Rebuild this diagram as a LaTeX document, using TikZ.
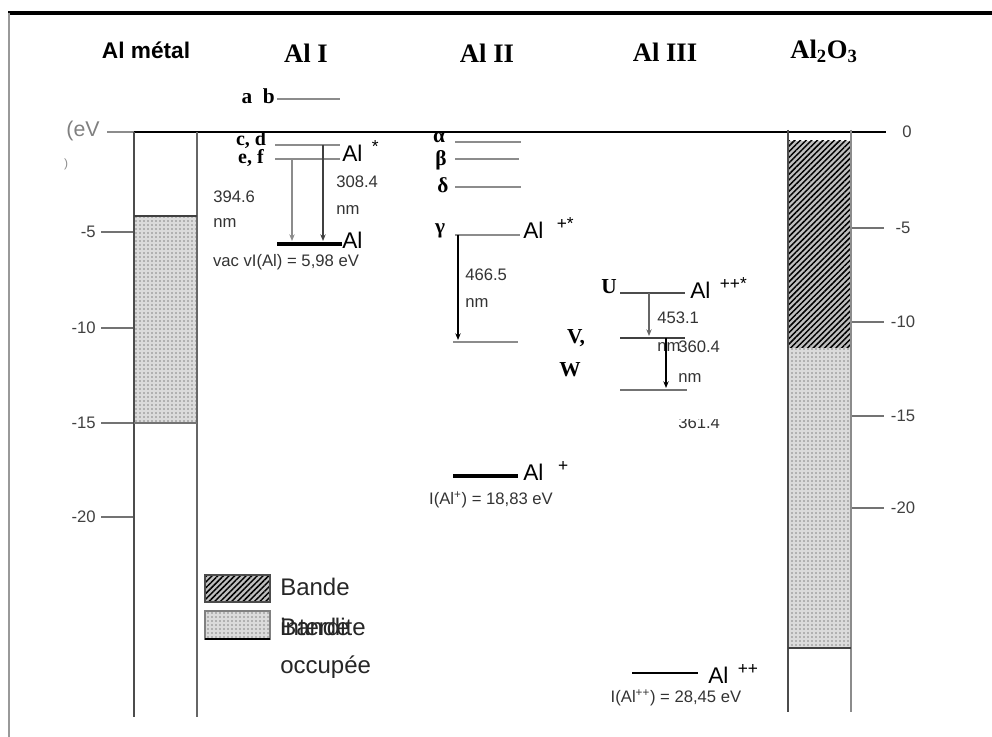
\documentclass[tikz,border=0pt]{standalone}
\usepackage{fontspec}
\setmainfont{Liberation Serif}
\setsansfont{Liberation Sans}
\usetikzlibrary{arrows.meta,patterns.meta}
\newcommand{\chg}[1]{\raisebox{7pt}{\fontsize{13}{13}\selectfont #1}}
\tikzset{level/.style = {draw=black!45, line width=1.6pt}}
\tikzset{ground/.style = {draw=black, line width=3.5pt}}
\tikzset{trans/.style = {-{Stealth[length=5pt,width=4pt]}, line width=0.9pt}}
\tikzset{title/.style = {font=\fontsize{20}{22}\selectfont\bfseries, inner sep=0pt}}
\tikzset{lbl/.style = {font=\fontsize{16}{18}\selectfont\bfseries, inner sep=0pt}}
\tikzset{ion/.style = {font=\sffamily\fontsize{17}{19}\selectfont, inner sep=0pt, anchor=west}}
\tikzset{small/.style = {font=\sffamily\fontsize{12.5}{14}\selectfont, inner sep=0pt, anchor=west, text=black!80}}
\tikzset{tick/.style = {draw=black!55, line width=1.6pt}}
\tikzset{ticklbl/.style = {font=\sffamily\fontsize{12.5}{14}\selectfont, inner sep=0pt, text=black!75}}
\tikzset{leg/.style = {font=\sffamily\fontsize{18}{20}\selectfont, inner sep=0pt, anchor=west, text=black!85}}
\tikzset{hatchfill/.style = {fill=black!25, postaction={pattern={Lines[angle=45,distance=3pt,line width=1.1pt]}, pattern color=black}}}
\tikzset{dotfill/.style = {fill=black!14, postaction={pattern={Dots[distance=3pt,radius=0.5pt]}, pattern color=black!85}}}

\begin{document}
\begin{tikzpicture}[x=0.75pt, y=-0.75pt]
	\useasboundingbox (0,0) rectangle (992,737);
	% frame
	\draw[line width=2.5pt] (8,13) -- (992,13);
	\draw[black!40, line width=1.5pt] (9,13) -- (9,737);

	% column titles
	\node[title, font=\sffamily\fontsize{17}{19}\selectfont\bfseries] (tmet) at (146,50) {Al métal};
	\node[title] (tAlI) at (306,53) {Al I};
	\node[title] (tAlII) at (487,53) {Al II};
	\node[title] (tAlIII) at (665,52) {Al III};
	\node[title] (tAlO) at (824,51) {Al\textsubscript{2}O\textsubscript{3}};

	% vacuum level
	\draw[black!45, line width=1.5pt] (107,132) -- (134,132);
	\draw[line width=2.2pt] (134,132) -- (886,132);
	\node[ticklbl, font=\sffamily\fontsize{16}{18}\selectfont, text=black!50] (ev) at (83,131) {(eV};
	\node[ticklbl, font=\sffamily\fontsize{9}{10}\selectfont, text=black!45] (evb) at (66,164) {)};
	\node[ticklbl] (r0) at (907,132) {0};

	% energy scales
	\foreach \y/\v [count=\i] in {232/-5,328/-10,423/-15,517/-20} {
		\draw[tick] (101,\y) -- (134,\y);
		\node[ticklbl, anchor=east] (lt\i) at (96,\y) {\v};
	}
	\foreach \y/\v [count=\i] in {228/-5,322/-10,416/-15,508/-20} {
		\draw[tick] (851,\y) -- (884,\y);
		\node[ticklbl] (rt\i) at (903,\y) {\v};
	}

	% Al metal
	\path[dotfill] (134,216) rectangle (197,423);
	\draw[black!70, line width=1.6pt] (134,132) -- (134,717);
	\draw[black!60, line width=1.6pt] (197,132) -- (197,717);
	\draw[black!75, line width=1.2pt] (134,216) -- (197,216);
	\draw[black!55, line width=1.5pt] (134,423) -- (197,423);

	% Al2O3
	\path[hatchfill] (788,141) rectangle (851,348);
	\path[dotfill] (788,348) rectangle (851,648);
	\draw[black!70, line width=1.6pt] (788,130) -- (788,712);
	\draw[black!45, line width=1.6pt] (851,130) -- (851,712);
	\draw[black!75, line width=1.2pt] (788,648) -- (851,648);

	% Al I
	\draw[level] (277,99) -- (340,99);
	\node[lbl, anchor=east] (ab) at (275,96) {a\ \ b};
	\draw[level] (275,145) -- (340,145);
	\draw[level] (275,159) -- (340,159);
	\node[lbl, font=\fontsize{15}{17}\selectfont\bfseries] (cd) at (251,140) {c, d};
	\node[lbl, font=\fontsize{15}{17}\selectfont\bfseries] (ef) at (251,158) {e, f};
	\node[ion] (AlIs) at (342,151) {Al\hspace{7pt}\chg{*}};
	\draw[ground] (277,244) -- (342,244);
	\node[ion] (AlI) at (342,240) {Al};
	\coordinate (s1) at (292,159);
	\coordinate (e1) at (292,241);
	\coordinate (s2) at (323,145);
	\coordinate (e2) at (323,241);
	\draw[trans, black!45] (s1) -- (e1);
	\draw[trans, black!75] (s2) -- (e2);
	\node[small] (wa) at (213,197) {394.6};
	\node[small] (wau) at (213,223) {nm};
	\node[small] (wb) at (336,182) {308.4};
	\node[small] (wbu) at (336,210) {nm};
	\node[small, anchor=center] (IAl) at (286,262) {vac vI(Al) = 5,98 eV};

	% Al II
	\draw[level] (455,142) -- (521,142);
	\draw[level] (455,159) -- (519,159);
	\draw[level] (455,187) -- (521,187);
	\draw[level] (455,235) -- (520,235);
	\node[lbl] (alpha) at (439,138) {α};
	\node[lbl] (beta) at (441,160) {β};
	\node[lbl] (delta) at (443,185) {δ};
	\node[lbl] (gamma) at (440,231) {γ};
	\node[ion] (AlIIs) at (523,228) {Al\hspace{10pt}\chg{+*}};
	\coordinate (s3) at (458,235);
	\coordinate (e3) at (458,340);
	\draw[trans, black] (s3) -- (e3);
	\draw[level, line width=2.2pt] (453,342) -- (518,342);
	\node[small] (wc) at (465,275) {466.5};
	\node[small] (wcu) at (465,303) {nm};
	\draw[ground] (453,476) -- (518,476);
	\node[ion] (AlII) at (523,471) {Al\hspace{11pt}\chg{+}};
	\node[small, anchor=center] (IAlp) at (491,500) {I(Al\textsuperscript{+}) = 18,83 eV};

	% Al III
	\draw[level, draw=black!70] (620,293) -- (685,293);
	\node[lbl] (U) at (609,287) {U};
	\node[ion] (AlIIIs) at (690,288) {Al\hspace{7pt}\chg{++*}};
	\coordinate (s4) at (649,293);
	\coordinate (e4) at (649,336);
	\draw[trans, black!60] (s4) -- (e4);
	\draw[level, draw=black!75] (620,338) -- (685,338);
	\node[lbl] (V) at (576,338) {V,};
	\node[lbl] (W) at (570,370) {W};
	\node[small] (wd) at (657,318) {453.1};
	\node[small] (wdu) at (657,347) {nm};
	\node[small] (we) at (678,347) {360.4};
	\coordinate (s5) at (666,338);
	\coordinate (e5) at (666,388);
	\draw[trans, black] (s5) -- (e5);
	\draw[level, draw=black!55] (620,390) -- (687,390);
	\node[small] (weu) at (678,378) {nm};
	\begin{scope}
		\clip (670,420) rectangle (730,432);
		\node[small] (wf) at (678,423) {361.4};
	\end{scope}
	\draw[draw=black, line width=2.2pt] (632,673) -- (698,673);
	\node[ion] (AlIII) at (708,674) {Al\hspace{7pt}\chg{++}};
	\node[small, anchor=center] (IAlpp) at (676,698) {I(Al\textsuperscript{++}) = 28,45 eV};

	% legend
	\path[hatchfill] (205,575) rectangle (270,602);
	\draw[black!70, line width=1pt] (205,575) rectangle (270,602);
	\path[dotfill] (205,611) rectangle (270,639);
	\draw[black!50, line width=1pt] (205,611) rectangle (270,639);
	\draw[black, line width=1.8pt] (205,639) -- (270,639);
	\node[leg] (lgA) at (280,587) {Bande};
	\node[leg] (lgB) at (280,627) {interdite};
	\node[leg] (lgC) at (280,627) {Bande};
	\node[leg] (lgD) at (280,667) {occupée};
\end{tikzpicture}
\end{document}
